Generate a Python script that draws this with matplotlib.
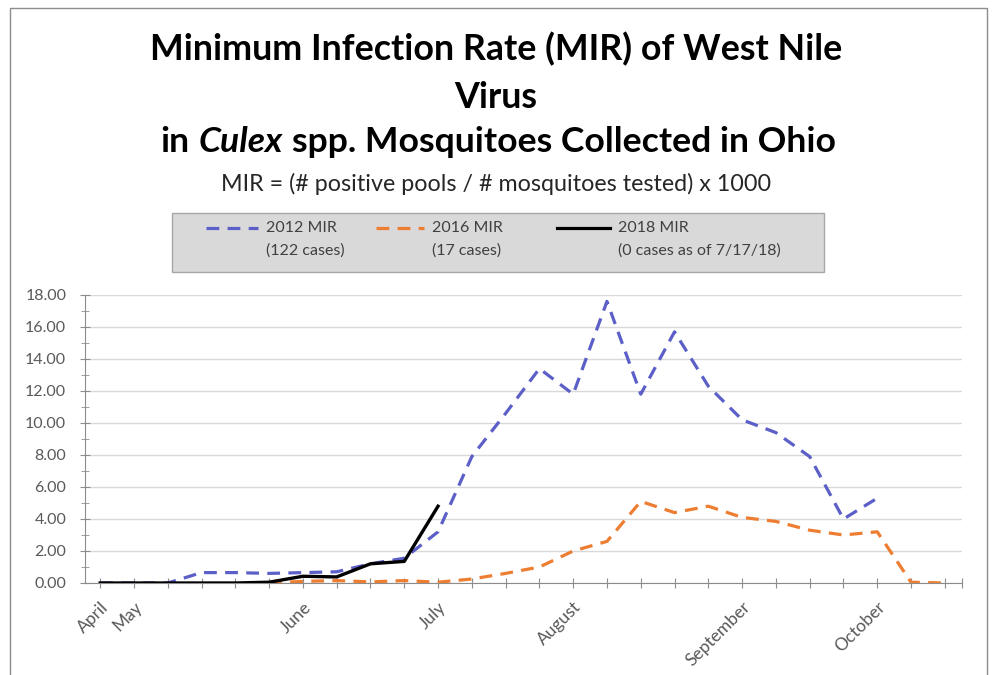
import numpy as np
import matplotlib
matplotlib.use("Agg")
import matplotlib.pyplot as plt
from matplotlib.patches import Rectangle
from matplotlib.lines import Line2D

plt.rcParams['font.family'] = ['Lato', 'DejaVu Sans']

# weekly categories (mostly unlabelled)
week_labels = ['April', 'May', '', '', '', '', 'June', '', '', '', 'July', '', '', '',
               'August', '', '', '', '', 'September', '', '', '', 'October', '', '']

nan = np.nan
mir_2012 = [0, 0, 0, 0.65, 0.65, 0.6, 0.65, 0.7, 1.2, 1.55, 3.2, 7.9, 10.6, 13.4,
            11.8, 17.6, 11.8, 15.7, 12.3, 10.2, 9.4, 7.9, 4.0, 5.3, nan, nan]
mir_2016 = [nan, nan, nan, nan, nan, 0.0, 0.1, 0.15, 0.07, 0.15, 0.05, 0.25, 0.6, 1.0,
            2.0, 2.6, 5.1, 4.4, 4.8, 4.1, 3.85, 3.3, 3.0, 3.2, 0.05, 0.0]
mir_2018 = [0, 0, 0, 0, 0, 0.05, 0.42, 0.38, 1.2, 1.35, 4.8, nan, nan, nan,
            nan, nan, nan, nan, nan, nan, nan, nan, nan, nan, nan, nan]

legend_top = ['2012 MIR', '2016 MIR', '2018 MIR']
legend_bottom = ['(122 cases)', '(17 cases)', '(0 cases as of 7/17/18)']

c2012 = '#5b5fc7'
c2016 = '#ed7d31'
c2018 = '#000000'
tick_grey = '#595959'

W, H = 992, 675
fig = plt.figure(figsize=(W / 100, H / 100), dpi=100)

def fx(px):
    return px / W

def fy(py):
    return 1 - py / H

# outer chart border
fig.add_artist(Rectangle((fx(10), fy(678)), fx(977), (678 - 8) / H,
                         transform=fig.transFigure, fill=False,
                         edgecolor='#8c8c8c', lw=1))

ax = fig.add_axes([fx(85), fy(583), fx(961.7 - 85), (583 - 295) / H])
x = np.arange(len(week_labels))

ax.plot(x, mir_2012, color=c2012, lw=2.3, dashes=(4, 2.6), zorder=3)
ax.plot(x, mir_2016, color=c2016, lw=2.3, dashes=(4, 2.6), zorder=3)
ax.plot(x, mir_2018, color=c2018, lw=2.4, zorder=4)

ax.set_xlim(-0.45, 25.5)
ax.set_ylim(0, 18)
ax.set_yticks(np.arange(0, 18.01, 2))
ax.set_yticks(np.arange(1, 18, 2), minor=True)
ax.set_yticklabels([f'{v:.2f}' for v in np.arange(0, 18.01, 2)])
ax.yaxis.grid(True, color='#d9d9d9', lw=1)
ax.set_axisbelow(True)

ax.set_xticks(list(x) + [25.5])
ax.set_xticklabels(week_labels + [''], rotation=45, ha='right',
                   rotation_mode='anchor')

for s in ['top', 'right']:
    ax.spines[s].set_visible(False)
for s in ['left', 'bottom']:
    ax.spines[s].set_color('#8c8c8c')
ax.tick_params(axis='both', which='both', direction='inout', color='#8c8c8c',
               labelcolor=tick_grey)
ax.tick_params(axis='y', which='major', length=7, pad=10, labelsize=11.5)
ax.tick_params(axis='y', which='minor', length=6)
ax.tick_params(axis='x', length=7, pad=8, labelsize=12.5)

# title lines
renderer = fig.canvas.get_renderer()

def fitted(txt, target_w, cy, **kw):
    t = fig.text(0.5, fy(cy), txt, ha='center', va='center', fontsize=20, **kw)
    w = t.get_window_extent(renderer).width
    t.set_fontsize(20 * target_w / w)
    return t

t1 = fitted('Minimum Infection Rate (MIR) of West Nile', 692, 49, fontweight='bold')
fig.text(0.5, fy(97), 'Virus', ha='center', va='center',
         fontsize=t1.get_fontsize(), fontweight='bold')

parts = [('in', 'normal'), ('Culex', 'italic'), ('spp. Mosquitoes Collected in Ohio', 'normal')]
tparts = [fig.text(0, fy(142), p, fontsize=20, fontweight='bold', fontstyle=st,
                   va='center', ha='left') for p, st in parts]
widths = [t.get_window_extent(renderer).width for t in tparts]
gap = 0.27 * 20 * 100 / 72
total = sum(widths) + 2 * gap
scale = 676 / total
size = 20 * scale
xpos = 498 - 676 / 2
for t, w in zip(tparts, widths):
    t.set_fontsize(size)
    t.set_x(fx(xpos))
    xpos += (w + gap) * scale

fitted('MIR = (# positive pools / # mosquitoes tested) x 1000', 550, 184,
       color='#262626')

# legend box
fig.add_artist(Rectangle((fx(172), fy(272)), fx(824 - 172), (272 - 213) / H,
                         transform=fig.transFigure, facecolor='#d9d9d9',
                         edgecolor='#a6a6a6', lw=1, zorder=1))
samples = [(206, 258, c2012, (4, 2.6), 266),
           (376, 424, c2016, (4, 2.6), 432),
           (557, 610, c2018, None, 618)]
for (x0, x1, col, dsh, tx), top, bot in zip(samples, legend_top, legend_bottom):
    ln = Line2D([fx(x0), fx(x1)], [fy(228), fy(228)], transform=fig.transFigure,
                color=col, lw=2.3, zorder=2)
    if dsh:
        ln.set_dashes(dsh)
    fig.add_artist(ln)
    fig.text(fx(tx), fy(228), top, fontsize=11.5, color='#404040', va='center', zorder=3)
    fig.text(fx(tx), fy(251), bot, fontsize=11.5, color='#404040', va='center', zorder=3)

fig.savefig('out.png', dpi=100)
